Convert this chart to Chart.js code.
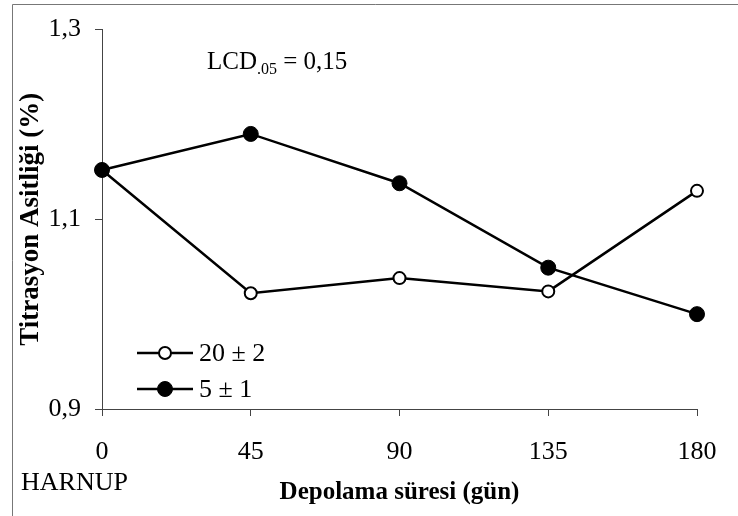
<!DOCTYPE html>
<html>
<head>
<meta charset="utf-8">
<script src="https://cdn.jsdelivr.net/npm/chart.js@4"></script>
<style>
  html, body { margin: 0; padding: 0; background: #fff; }
  #wrap { width: 738px; height: 516px; }
</style>
</head>
<body>
<div id="wrap"><canvas id="chart" width="738" height="516"></canvas></div>
<script>
// Depolama süresi (gün)
var days = ['0', '45', '90', '135', '180'];
// 20 ± 2 (açık daire)
var warm = [1.152, 1.022, 1.038, 1.024, 1.13];
// 5 ± 1 (dolu daire)
var cold = [1.152, 1.19, 1.138, 1.049, 1.0];
var yTicks = [0.9, 1.1, 1.3];

var serif = "'Liberation Serif', 'Times New Roman', serif";

// lejant, LCD yazisi ve HARNUP etiketi
var extras = {
    id: 'extras',
    beforeDraw: function(chart) {
        var c = chart.ctx;
        c.save();
        c.strokeStyle = '#777';
        c.lineWidth = 1;
        c.beginPath();
        c.moveTo(12.5, 516);
        c.lineTo(12.5, 4.5);
        c.lineTo(738, 4.5);
        c.stroke();
        c.restore();
    },
    afterDraw: function(chart) {
        var c = chart.ctx;
        c.save();
        c.fillStyle = '#000';
        c.textBaseline = 'alphabetic';
        c.font = '25px ' + serif;
        c.fillText('LCD', 207, 69);
        var w = c.measureText('LCD').width;
        c.font = '16px ' + serif;
        c.fillText('.05', 207 + w, 74);
        var w2 = c.measureText('.05').width;
        c.font = '25px ' + serif;
        c.fillText(' = 0,15', 207 + w + w2, 69);

        c.font = '26px ' + serif;
        c.fillText('HARNUP', 21, 490);

        // lejant
        var rows = [353, 389];
        chart.data.datasets.forEach(function(ds, i) {
            var y = rows[i];
            c.strokeStyle = '#000';
            c.lineWidth = 2.5;
            c.beginPath();
            c.moveTo(137, y);
            c.lineTo(193, y);
            c.stroke();
            c.beginPath();
            c.arc(165, y, ds.pointRadius, 0, Math.PI * 2);
            c.fillStyle = ds.pointBackgroundColor;
            c.fill();
            c.lineWidth = ds.pointBorderWidth;
            c.stroke();
            c.fillStyle = '#000';
            c.font = '26px ' + serif;
            c.textBaseline = 'middle';
            c.fillText(ds.label, 199, y + 1);
        });
        c.restore();
    }
};

new Chart(document.getElementById('chart'), {
    type: 'line',
    data: {
        labels: days,
        datasets: [
            {
                label: '20 ± 2',
                data: warm,
                order: 1,
                borderColor: '#000',
                borderWidth: 2.5,
                pointRadius: 6,
                pointBorderWidth: 2,
                pointBackgroundColor: '#fff',
                pointBorderColor: '#000',
                tension: 0
            },
            {
                label: '5 ± 1',
                data: cold,
                order: 0,
                borderColor: '#000',
                borderWidth: 2.5,
                pointRadius: 7.5,
                pointBorderWidth: 1,
                pointBackgroundColor: '#000',
                pointBorderColor: '#000',
                tension: 0
            }
        ]
    },
    options: {
        responsive: false,
        animation: false,
        layout: { padding: { top: 29, right: 41, bottom: 0, left: 0 } },
        plugins: {
            legend: { display: false },
            tooltip: { enabled: false }
        },
        scales: {
            x: {
                type: 'category',
                offset: false,
                grid: { drawOnChartArea: false, drawTicks: true, tickLength: 7, color: '#444' },
                border: { display: true, color: '#444', width: 1 },
                ticks: { color: '#000', padding: 21, font: { family: serif, size: 26 }, maxRotation: 0 },
                title: {
                    display: true,
                    text: 'Depolama süresi (gün)',
                    color: '#000',
                    font: { family: serif, size: 25, weight: 'bold' },
                    padding: { top: 0, bottom: 8 }
                },
                afterFit: function(scale) { scale.height = 107; }
            },
            y: {
                min: 0.9,
                max: 1.3,
                afterBuildTicks: function(scale) {
                    scale.ticks = yTicks.map(function(v) { return { value: v }; });
                },
                grid: { drawOnChartArea: false, drawTicks: true, tickLength: 7, color: '#444' },
                border: { display: true, color: '#444', width: 1 },
                ticks: {
                    color: '#000',
                    padding: 14,
                    font: { family: serif, size: 26 },
                    callback: function(v) { return v.toFixed(1).replace('.', ','); }
                },
                title: {
                    display: true,
                    text: 'Titrasyon Asitliği (%)',
                    color: '#000',
                    font: { family: serif, size: 27, weight: 'bold' },
                    padding: { top: 15, bottom: 0 }
                },
                afterFit: function(scale) { scale.width = 102; }
            }
        }
    },
    plugins: [extras]
});
</script>
</body>
</html>
